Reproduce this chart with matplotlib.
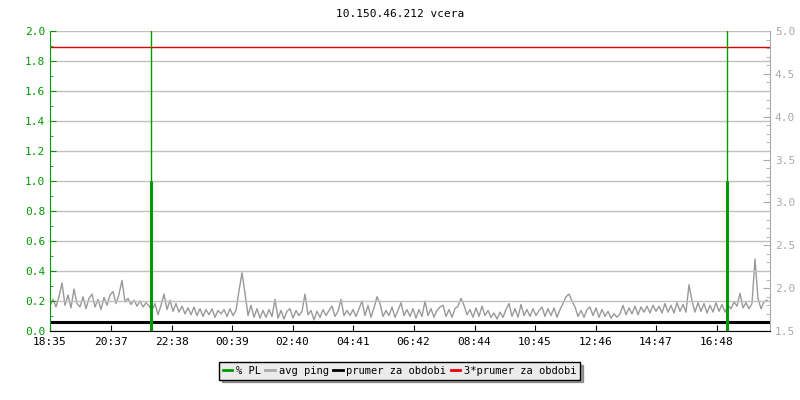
import numpy as np
import matplotlib
matplotlib.use('Agg')
import matplotlib.pyplot as plt
from matplotlib.lines import Line2D
from matplotlib.ticker import MultipleLocator

plt.rcParams['font.family'] = 'DejaVu Sans Mono'

title = '10.150.46.212 vcera'

# x axis in minutes since 18:35
tick_pos = [0, 122, 243, 364, 485, 606, 727, 849, 970, 1091, 1212, 1333]
tick_lab = ['18:35', '20:37', '22:38', '00:39', '02:40', '04:41',
            '06:42', '08:44', '10:45', '12:46', '14:47', '16:48']

# avg ping (right axis), one sample every 6 minutes
ping = [
    1.79, 1.87, 1.78, 1.90, 2.06, 1.80, 1.92, 1.77, 1.99, 1.82, 1.78, 1.90, 1.76, 1.88, 1.93, 1.78, 1.87,
    1.75, 1.89, 1.80, 1.92, 1.96, 1.82, 1.93, 2.09, 1.84, 1.88, 1.81, 1.86, 1.79, 1.85, 1.78, 1.83, 1.79,
    1.74, 1.82, 1.69, 1.80, 1.93, 1.75, 1.86, 1.73, 1.82, 1.72, 1.79, 1.70, 1.77, 1.69, 1.78, 1.68, 1.76,
    1.67, 1.75, 1.69, 1.76, 1.66, 1.74, 1.70, 1.75, 1.67, 1.76,
    1.68, 1.74, 1.97, 2.18, 1.94, 1.68, 1.80, 1.66, 1.76, 1.65, 1.74, 1.66, 1.75, 1.67, 1.87, 1.65, 1.74,
    1.64, 1.73, 1.76, 1.65, 1.74, 1.68, 1.73, 1.93, 1.69, 1.74, 1.63, 1.73, 1.66, 1.75, 1.68, 1.74, 1.79,
    1.67, 1.73, 1.87, 1.68, 1.74,
    1.68, 1.75, 1.67, 1.76, 1.85, 1.68, 1.80, 1.66, 1.77, 1.90, 1.82, 1.67, 1.74, 1.68, 1.78, 1.66, 1.74,
    1.83, 1.68, 1.75, 1.67, 1.76, 1.65, 1.75, 1.67, 1.85, 1.68, 1.76, 1.66, 1.74, 1.78, 1.80, 1.67, 1.75,
    1.66, 1.76, 1.79, 1.88, 1.80, 1.69,
    1.75, 1.66, 1.77, 1.67, 1.79, 1.68, 1.74, 1.66, 1.71, 1.64, 1.72, 1.66, 1.75, 1.82, 1.67, 1.76, 1.66,
    1.81, 1.68, 1.75, 1.67, 1.76, 1.68, 1.74, 1.78, 1.67, 1.76, 1.68, 1.77, 1.66, 1.75, 1.82, 1.90, 1.93,
    1.85, 1.78, 1.67, 1.74, 1.66, 1.75, 1.78, 1.68, 1.77, 1.66, 1.75, 1.67, 1.73, 1.65, 1.70, 1.66,
    1.70, 1.80, 1.69, 1.77, 1.70, 1.79, 1.69, 1.78, 1.72, 1.79, 1.71, 1.80, 1.73, 1.79, 1.71, 1.82, 1.72,
    1.80, 1.71, 1.83, 1.73, 1.81, 1.72, 2.04, 1.85, 1.72, 1.83, 1.73, 1.82, 1.71, 1.80, 1.72, 1.83, 1.73,
    1.81, 1.72, 1.80, 1.76, 1.84, 1.79, 1.94, 1.77, 1.83, 1.76, 1.82, 2.34, 1.88, 1.76, 1.84, 1.86,
]
ping_t = np.arange(len(ping)) * 6

# packet loss events (left axis)
pl_t = [201, 1353]
pl_val = [1.0, 1.0]

mean_ping = 1.605

fig = plt.figure(figsize=(8, 4), dpi=100)
ax = fig.add_axes([0.0625, 0.1725, 0.9, 0.75])
ax2 = ax.twinx()
ax.set_zorder(ax2.get_zorder() + 1)
ax.patch.set_visible(False)

green = '#009900'
grey = '#999999'

ax2.plot(ping_t, ping, color=grey, lw=1)
ax2.axhline(mean_ping, color='black', lw=2.2)
ax2.axhline(3 * mean_ping, color='#dd0000', lw=1)
ax2.set_ylim(1.5, 5.0)

for t, v in zip(pl_t, pl_val):
    ax.axvline(t, color=green, lw=1)
    ax.vlines(t, 0, v, color=green, lw=2.2)

ax.set_xlim(0, 1440)
ax.set_ylim(0, 2.0)
ax.yaxis.set_major_locator(MultipleLocator(0.2))
ax.yaxis.set_minor_locator(MultipleLocator(0.1))
ax.grid(axis='y', color='#c0c0c0', lw=1)
ax.set_xticks(tick_pos)
ax.set_xticklabels(tick_lab)
ax.tick_params(axis='x', direction='in', length=4, labelsize=8, pad=4)
ax.tick_params(axis='y', which='major', direction='in', length=4, colors=green, labelsize=8)
ax.tick_params(axis='y', which='minor', direction='in', length=2, colors=green)
ax.yaxis.set_major_formatter(plt.FormatStrFormatter('%.1f'))

ax2.yaxis.set_major_locator(MultipleLocator(0.5))
ax2.yaxis.set_minor_locator(MultipleLocator(0.1))
ax2.yaxis.set_major_formatter(plt.FormatStrFormatter('%.1f'))
ax2.tick_params(axis='y', which='major', direction='in', length=5, colors='#aaaaaa', labelsize=8)
ax2.tick_params(axis='y', which='minor', direction='in', length=3, colors='#aaaaaa')

for a in (ax, ax2):
    a.spines['top'].set_visible(False)
ax.spines['left'].set_color(green)
ax.spines['right'].set_visible(False)
ax2.spines['left'].set_visible(False)
ax2.spines['right'].set_color('#aaaaaa')
ax2.spines['bottom'].set_visible(False)

fig.text(0.5, 0.965, title, ha='center', va='center', fontsize=8)

handles = [Line2D([], [], color=green, lw=2),
           Line2D([], [], color='#aaaaaa', lw=2),
           Line2D([], [], color='black', lw=2),
           Line2D([], [], color='#ee0000', lw=2)]
labels = ['% PL', 'avg ping', 'prumer za obdobi', '3*prumer za obdobi']
leg = fig.legend(handles, labels, loc='center', bbox_to_anchor=(0.4995, 0.0725), ncol=4,
                 fontsize=7.5, frameon=True, fancybox=False, shadow=True,
                 handlelength=0.9, handletextpad=0.35, columnspacing=0.45,
                 borderpad=0.35, borderaxespad=0)
leg.get_frame().set_edgecolor('black')
leg.get_frame().set_facecolor('#ebebeb')
leg.get_frame().set_linewidth(1)

fig.savefig('out.png', dpi=100)
